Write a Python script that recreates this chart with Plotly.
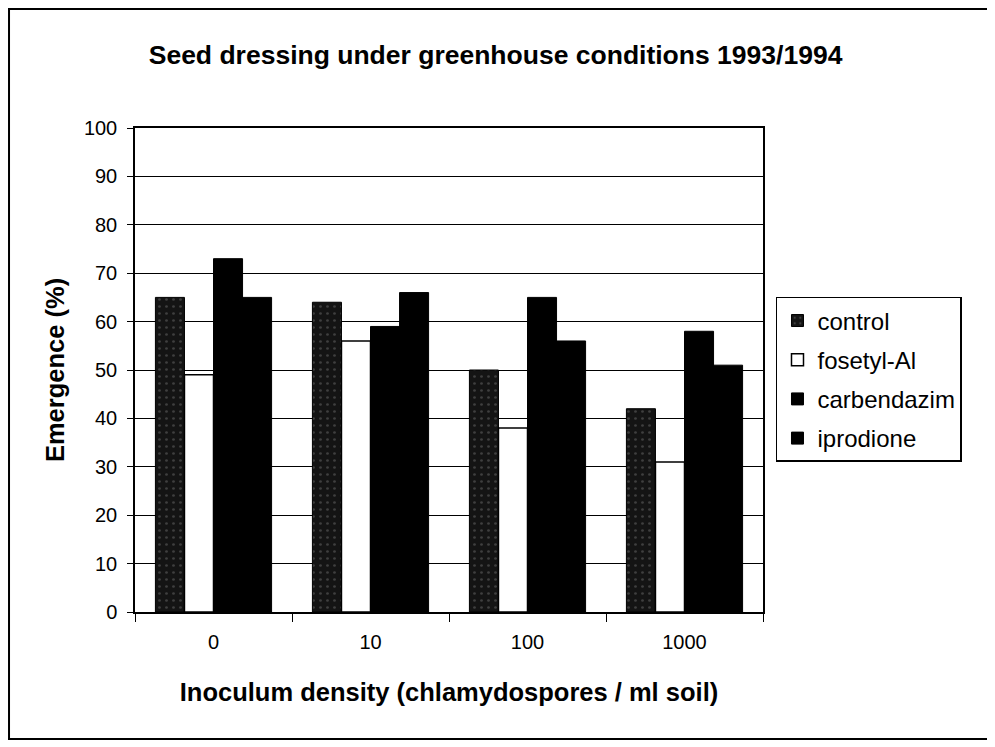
import plotly.graph_objects as go

categories = ["0", "10", "100", "1000"]
control = [65, 64, 50, 42]
fosetyl_al = [49, 56, 38, 31]
carbendazim = [73, 59, 65, 58]
iprodione = [65, 66, 56, 51]
y_ticks = list(range(0, 101, 10))

FONT = "Liberation Sans, Arial, sans-serif"

fig = go.Figure()
fig.add_trace(go.Bar(
    name="control", x=categories, y=control, legendgroup="a",
    marker=dict(color="#141414", line=dict(color="black", width=1),
                pattern=dict(shape=".", fgcolor="#6a6a6a", size=7, solidity=0.12)),
))
fig.add_trace(go.Bar(
    name="fosetyl-Al", x=categories, y=fosetyl_al, legendgroup="b",
    marker=dict(color="white", line=dict(color="black", width=1.5)),
))
fig.add_trace(go.Bar(
    name="carbendazim", x=categories, y=carbendazim, legendgroup="c",
    marker=dict(color="black", line=dict(color="black", width=1)),
))
fig.add_trace(go.Bar(
    name="iprodione", x=categories, y=iprodione, legendgroup="d",
    marker=dict(color="black", line=dict(color="black", width=1)),
))

fig.update_layout(
    width=995, height=747,
    margin=dict(l=127, r=240, t=120, b=143),
    paper_bgcolor="white", plot_bgcolor="white",
    barmode="group", bargap=0.26, bargroupgap=0,
    font=dict(family=FONT, color="black", size=20),
    title=dict(text="<b>Seed dressing under greenhouse conditions 1993/1994</b>",
               x=0.490, xanchor="center", y=0.937, yanchor="middle",
               font=dict(size=26.5, family=FONT)),
    showlegend=True,
    legend=dict(x=1.0207, xanchor="left", y=0.651, yanchor="top",
                bordercolor="black", borderwidth=1.5,
                font=dict(size=24, family=FONT), tracegroupgap=5),
    shapes=[dict(type="rect", xref="paper", yref="paper",
                 x0=-0.2006, x1=1.3583, y0=-0.2624, y1=1.2459,
                 line=dict(color="black", width=2), fillcolor="rgba(0,0,0,0)",
                 layer="below")],
)

fig.update_xaxes(
    type="category", tickson="boundaries", ticks="outside", ticklen=8,
    tickcolor="black", showline=True, linecolor="black", linewidth=1.5,
    mirror=True, showgrid=False, ticklabelstandoff=11,
    tickfont=dict(size=20, family=FONT),
    title=dict(text="<b>Inoculum density (chlamydospores / ml soil)</b>",
               font=dict(size=25.5, family=FONT), standoff=31),
)
fig.update_yaxes(
    range=[0, 100], tickvals=y_ticks, ticks="outside", ticklen=6,
    tickcolor="black", showline=True, linecolor="black", linewidth=1.5,
    mirror=True, showgrid=True, gridcolor="black", gridwidth=1.2,
    zeroline=False, tickfont=dict(size=20, family=FONT), ticklabelstandoff=6,
    title=dict(text="<b>Emergence (%)</b>", font=dict(size=25.5, family=FONT),
               standoff=12),
)

fig.write_html("out.html")
